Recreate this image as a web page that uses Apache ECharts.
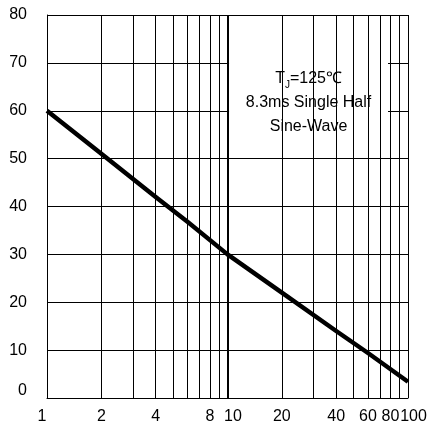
<!DOCTYPE html>
<html>
<head>
<meta charset="utf-8">
<script src="https://cdn.jsdelivr.net/npm/echarts@6/dist/echarts.min.js"></script>
<style>html,body{margin:0;padding:0;background:#fff;}#c{width:432px;height:428px;}</style>
</head>
<body>
<div id="c"></div>
<script>
// Data
const curveX = [1, 2, 4, 6, 10, 20, 40, 60, 100];
const curveY = [60, 51, 42, 36.8, 30, 22, 14, 9.4, 3.4];
const xLabelValues = [1, 2, 4, 8, 10, 20, 40, 60, 80, 100];
const xGridValues = [2, 3, 4, 5, 6, 7, 8, 9, 10, 20, 30, 40, 50, 60, 70, 80, 90, 100];
const yTicks = [0, 10, 20, 30, 40, 50, 60, 70, 80];
const noteText = ['T{sub|J}=125℃', '8.3ms Single Half', 'Sine-Wave'];
const noteBox = { x0: 10.2, x1: 77.5, y0: 54.3, y1: 70.3 };

const FONT = '"Liberation Sans", Arial, sans-serif';
const labelShift = { 1: 'l', 10: 'r', 100: 'r' };

const chart = echarts.init(document.getElementById('c'), null, { renderer: 'canvas' });
chart.setOption({
  animation: false,
  backgroundColor: '#fff',
  grid: { left: 47, right: 24, top: 15, bottom: 30, containLabel: false },
  xAxis: {
    type: 'log', logBase: 10, min: 1, max: 100,
    axisLine: { show: true, lineStyle: { color: '#000', width: 1 } },
    axisTick: { show: false },
    splitLine: { show: false },
    minorTick: { show: false }, minorSplitLine: { show: false },
    axisLabel: {
      customValues: xLabelValues,
      margin: 11,
      fontFamily: FONT, fontSize: 16, color: '#000',
      formatter: function (v) {
        const r = Math.round(v);
        const s = labelShift[r];
        if (s === 'l') return '{l|' + r + '}';
        if (s === 'r') return '{r|' + r + '}';
        return String(r);
      },
      rich: {
        l: { fontFamily: FONT, fontSize: 16, color: '#000', padding: [0, 10, 0, 0] },
        r: { fontFamily: FONT, fontSize: 16, color: '#000', padding: [0, 0, 0, 11] }
      }
    }
  },
  yAxis: {
    type: 'value', min: 0, max: 80, interval: 10,
    axisLine: { show: true, lineStyle: { color: '#000', width: 1 } },
    axisTick: { show: false },
    splitLine: { show: true, lineStyle: { color: '#000', width: 1 } },
    axisLabel: {
      margin: 20, fontFamily: FONT, fontSize: 16, color: '#000',
      formatter: function (v) { return v === yTicks[0] ? '{z|' + v + '}' : String(v); },
      rich: { z: { fontFamily: FONT, fontSize: 16, color: '#000', padding: [0, 0, 14, 0] } }
    }
  },
  series: [
    {
      type: 'line', data: [], z: 1, silent: true,
      markLine: {
        silent: true, symbol: 'none', animation: false,
        label: { show: false },
        lineStyle: { color: '#000', width: 1, type: 'solid' },
        data: xGridValues.map(v => ({ xAxis: v, lineStyle: v === 10 ? { width: 2 } : undefined }))
      }
    },
    {
      type: 'line', data: [], z: 3, silent: true,
      markArea: {
        silent: true, animation: false,
        itemStyle: { color: '#fff', borderWidth: 0 },
        label: {
          show: true, position: 'inside', offset: [0, 3],
          fontFamily: FONT, fontSize: 16, color: '#000', lineHeight: 24,
          formatter: noteText.join('\n'),
          rich: {
            sub: { fontFamily: FONT, fontSize: 10, color: '#000', verticalAlign: 'bottom', padding: [6, 0, 0, 0] }
          }
        },
        data: [[{ coord: [noteBox.x0, noteBox.y1] }, { coord: [noteBox.x1, noteBox.y0] }]]
      }
    },
    {
      type: 'line', z: 5, silent: true,
      data: curveX.map((x, i) => [x, curveY[i]]),
      symbol: 'none', smooth: false,
      lineStyle: { color: '#000', width: 4.5, join: 'round' }
    }
  ]
});
</script>
</body>
</html>
